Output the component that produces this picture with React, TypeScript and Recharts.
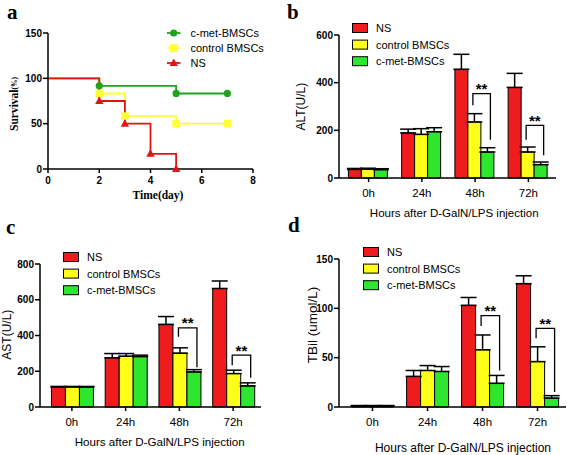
import React from 'react';
import { BarChart, Bar, XAxis, YAxis, ErrorBar, LabelList, Legend, LineChart, Line, Label } from 'recharts';

const SANS = '"Liberation Sans", Arial, sans-serif';
const SERIF = '"Liberation Serif", "Times New Roman", serif';

// survival (panel a)
const cmetDays = [0, 2, 5, 7];
const cmetSurv = [100, 91.7, 83.3, 83.3];
const ctrlDays = [0, 2, 3, 5, 7];
const ctrlSurv = [100, 83.3, 58.3, 50, 50];
const nsDays = [0, 2, 3, 4, 5];
const nsSurv = [100, 75, 50, 16.7, 0];

// bar panels
const hours = ['0h', '24h', '48h', '72h'];
const groupNames = ['NS', 'control BMSCs', 'c-met-BMSCs'];
const barColors = ['#ee1c1c', '#ffff1a', '#2ee62e'];

const altNS = [36, 189, 456, 380];
const altNSErr = [4, 16, 63, 59];
const altCtrl = [37, 183, 235, 109];
const altCtrlErr = [4, 24, 35, 21];
const altCmet = [35, 194, 109, 56];
const altCmetErr = [4, 17, 18, 11];
const altBracketTop = [null, null, 354, 221];
const altBracketLeft = [null, null, 305, 161];
const altBracketRight = [null, null, 161, 95];

const astNS = [112, 275, 462, 663];
const astNSErr = [3, 24, 44, 42];
const astCtrl = [112, 284, 301, 187];
const astCtrlErr = [3, 15, 30, 19];
const astCmet = [112, 282, 196, 118];
const astCmetErr = [3, 8, 13, 17];
const astBracketTop = [null, null, 443, 290];
const astBracketLeft = [null, null, 393, 234];
const astBracketRight = [null, null, 222, 163];

const tbilNS = [1, 31, 103, 125];
const tbilNSErr = [0.5, 6, 8, 8];
const tbilCtrl = [1, 37, 58, 46];
const tbilCtrlErr = [0.5, 5, 15, 15];
const tbilCmet = [1, 36, 24, 9];
const tbilCmetErr = [0.5, 5, 8, 2.5];
const tbilBracketTop = [null, null, 92.6, 79.7];
const tbilBracketLeft = [null, null, 82, 69.6];
const tbilBracketRight = [null, null, 37, 15.3];

const buildRows = (ns: number[], nsE: number[], ct: number[], ctE: number[], cm: number[], cmE: number[]) =>
  hours.map((h, i) => ({
    hour: h,
    ns: ns[i], ctrl: ct[i], cmet: cm[i],
    nsErr: [0, nsE[i]], ctrlErr: [0, ctE[i]], cmetErr: [0, cmE[i]],
  }));

const toPoints = (days: number[], surv: number[]) => days.map((d, i) => ({ day: d, surv: surv[i] }));

const lineSeries = [
  { name: 'c-met-BMSCs', color: '#1fa31f', shape: 'circle', points: toPoints(cmetDays, cmetSurv) },
  { name: 'control BMSCs', color: '#ffff33', shape: 'square', points: toPoints(ctrlDays, ctrlSurv) },
  { name: 'NS', color: '#e01414', shape: 'triangle', points: toPoints(nsDays, nsSurv) },
];

const marker = (shape: string, cx: number, cy: number, color: string, key?: any) => {
  if (shape === 'circle') return <circle key={key} cx={cx} cy={cy} r={3.6} fill={color} />;
  if (shape === 'square') return <rect key={key} x={cx - 3.8} y={cy - 3.8} width={7.6} height={7.6} fill={color} />;
  return <path key={key} d={`M${cx},${cy - 4.5}L${cx + 4.2},${cy + 3}L${cx - 4.2},${cy + 3}Z`} fill={color} />;
};

const axisStroke = { stroke: '#000', strokeWidth: 1.5 };
const numTick = { fontSize: 10, fontWeight: 'bold', fill: '#000', fontFamily: SANS };
const catTick = { fontSize: 11.5, fill: '#000', fontFamily: SANS };

const textAt = (x: number, y: number, text: React.ReactNode, opts: any = {}) => () => (
  <text
    x={x}
    y={y}
    textAnchor="middle"
    dominantBaseline="central"
    transform={opts.rotate ? `rotate(-90 ${x} ${y})` : undefined}
    fontFamily={opts.family ?? SANS}
    fontWeight={opts.weight ?? 'normal'}
    fontSize={opts.size ?? 12}
    fill="#000"
  >
    {text}
  </text>
);

const bracket = (top: (number | null)[], left: (number | null)[], right: (number | null)[]) => (props: any) => {
  const { index, value } = props;
  const vb = props.viewBox && props.viewBox.width != null ? props.viewBox : props;
  const { x, y, width, height } = vb;
  const t = top[index];
  if (t == null || !value) return null;
  const base = y + height;
  const k = height / value;
  const py = (v: number) => base - v * k;
  const x1 = x + width / 2 - 1.5;
  const x2 = x + width * 1.5 + 3;
  return (
    <g>
      <path d={`M${x1},${py(left[index] as number)}V${py(t)}H${x2}V${py(right[index] as number)}`} fill="none" stroke="#000" strokeWidth={1.3} />
      <text x={(x1 + x2) / 2} y={py(t) + 0.5} textAnchor="middle" fontWeight="bold" fontSize={15} fontFamily={SANS} fill="#000">**</text>
    </g>
  );
};

const BarLegend = () => (
  <svg width={130} height={54}>
    {groupNames.map((n, i) => (
      <g key={n}>
        <rect x={0.5} y={8 + i * 16.6 - 4.5} width={15} height={9} fill={barColors[i]} stroke="#000" strokeWidth={1} />
        <text x={24} y={8 + i * 16.6} dominantBaseline="central" fontSize={11} fontFamily={SANS} fill="#000">{n}</text>
      </g>
    ))}
  </svg>
);

const LineLegend = () => (
  <svg width={110} height={50}>
    {lineSeries.map((s, i) => (
      <g key={s.name}>
        <line x1={0} x2={13.5} y1={8 + i * 15} y2={8 + i * 15} stroke={s.color} strokeWidth={1.8} />
        {marker(s.shape, 6.7, 8 + i * 15, s.color)}
        <text x={23.5} y={8 + i * 15} dominantBaseline="central" fontSize={11} fontFamily={SANS} fill="#000">{s.name}</text>
      </g>
    ))}
  </svg>
);

interface BarPanelProps {
  left: number; top: number; width: number; height: number;
  margin: { top: number; right: number; left: number; bottom: number };
  yWidth: number; xHeight: number; pad: { left: number; right: number };
  domain: number[]; ticks: number[];
  rows: any[];
  br: [(number | null)[], (number | null)[], (number | null)[]];
  legendPos: { left: number; top: number };
  yTitle: string; yTitlePos: [number, number]; yTitleSize: number;
  xTitlePos: [number, number]; xTitleSize: number;
}

const BarPanel = (p: BarPanelProps) => (
  <div style={{ position: 'absolute', left: p.left, top: p.top }}>
    <BarChart width={p.width} height={p.height} data={p.rows} margin={p.margin} barCategoryGap="12%" barGap={0}>
      <XAxis dataKey="hour" height={p.xHeight} padding={p.pad} axisLine={axisStroke} tickLine={axisStroke} tickSize={4} tickMargin={7} tick={catTick} interval={0}>
        <Label content={textAt(p.xTitlePos[0], p.xTitlePos[1], 'Hours after D-GalN/LPS injection', { size: p.xTitleSize })} />
      </XAxis>
      <YAxis width={p.yWidth} domain={p.domain} ticks={p.ticks} axisLine={axisStroke} tickLine={axisStroke} tickSize={5} tickMargin={1} tick={numTick} interval={0}>
        <Label content={textAt(p.yTitlePos[0], p.yTitlePos[1], p.yTitle, { size: p.yTitleSize, rotate: true })} />
      </YAxis>
      <Legend layout="vertical" align="center" verticalAlign="middle" content={() => <BarLegend />} wrapperStyle={{ left: p.legendPos.left, top: p.legendPos.top, width: 130 }} />
      <Bar dataKey="ns" name={groupNames[0]} fill={barColors[0]} stroke="#000" strokeWidth={1} isAnimationActive={false}>
        <ErrorBar dataKey="nsErr" width={8} stroke="#000" strokeWidth={1.5} direction="y" />
      </Bar>
      <Bar dataKey="ctrl" name={groupNames[1]} fill={barColors[1]} stroke="#000" strokeWidth={1} isAnimationActive={false}>
        <ErrorBar dataKey="ctrlErr" width={8} stroke="#000" strokeWidth={1.5} direction="y" />
        <LabelList dataKey="ctrl" content={bracket(p.br[0], p.br[1], p.br[2])} />
      </Bar>
      <Bar dataKey="cmet" name={groupNames[2]} fill={barColors[2]} stroke="#000" strokeWidth={1} isAnimationActive={false}>
        <ErrorBar dataKey="cmetErr" width={8} stroke="#000" strokeWidth={1.5} direction="y" />
      </Bar>
    </BarChart>
  </div>
);

const letter = (ch: string, left: number, top: number) => (
  <div style={{ position: 'absolute', left, top, fontFamily: SERIF, fontWeight: 'bold', fontSize: 21, lineHeight: '21px' }}>{ch}</div>
);

export default function App() {
  return (
    <div style={{ position: 'absolute', left: 0, top: 0, width: 567, height: 455, background: '#fff', overflow: 'hidden' }}>
      <div style={{ position: 'absolute', left: 0, top: 0 }}>
        <LineChart width={280} height={225} margin={{ top: 33, right: 27, left: 0, bottom: 0 }}>
          <XAxis dataKey="day" type="number" domain={[0, 8]} ticks={[0, 2, 4, 6, 8]} height={56} axisLine={axisStroke} tickLine={axisStroke} tickSize={4} tickMargin={3.5} tick={numTick} allowDuplicatedCategory={false}>
            <Label content={textAt(158, 195, 'Time(day)', { family: SERIF, weight: 'bold', size: 11.5 })} />
          </XAxis>
          <YAxis dataKey="surv" type="number" domain={[0, 150]} ticks={[0, 50, 100, 150]} width={48} axisLine={axisStroke} tickLine={axisStroke} tickSize={5} tickMargin={1} tick={numTick}>
            <Label content={textAt(14, 104, <>Survival<tspan fontSize={7.5}>(%)</tspan></>, { family: SERIF, weight: 'bold', size: 11.5, rotate: true })} />
          </YAxis>
          <Legend layout="vertical" align="center" verticalAlign="middle" content={() => <LineLegend />} wrapperStyle={{ left: 166.5, top: 24.7, width: 110 }} />
          {lineSeries.map((s) => (
            <Line
              key={s.name}
              data={s.points}
              dataKey="surv"
              name={s.name}
              type="stepAfter"
              stroke={s.color}
              strokeWidth={1.8}
              isAnimationActive={false}
              activeDot={false}
              dot={(d: any) => (d.index === 0 ? <g key={`${s.name}-${d.index}`} /> : marker(s.shape, d.cx, d.cy, s.color, `${s.name}-${d.index}`))}
            />
          ))}
        </LineChart>
      </div>
      <BarPanel
        left={280} top={0} width={287} height={225}
        margin={{ top: 35, right: 11, left: 0, bottom: 0 }}
        yWidth={59} xHeight={47} pad={{ left: 3, right: 1 }}
        domain={[0, 600]} ticks={[0, 200, 400, 600]}
        rows={buildRows(altNS, altNSErr, altCtrl, altCtrlErr, altCmet, altCmetErr)}
        br={[altBracketTop, altBracketLeft, altBracketRight]}
        legendPos={{ left: 72, top: 19.5 }}
        yTitle="ALT(U/L)" yTitlePos={[21.3, 106.7]} yTitleSize={12}
        xTitlePos={[174.2, 213]} xTitleSize={11.5}
      />
      <BarPanel
        left={0} top={225} width={280} height={230}
        margin={{ top: 39, right: 19, left: 0, bottom: 0 }}
        yWidth={40} xHeight={48} pad={{ left: 5, right: 1 }}
        domain={[0, 800]} ticks={[0, 200, 400, 600, 800]}
        rows={buildRows(astNS, astNSErr, astCtrl, astCtrlErr, astCmet, astCmetErr)}
        br={[astBracketTop, astBracketLeft, astBracketRight]}
        legendPos={{ left: 63, top: 23.7 }}
        yTitle="AST(U/L)" yTitlePos={[7.5, 109.7]} yTitleSize={12}
        xTitlePos={[159.7, 216.7]} xTitleSize={11.6}
      />
      <BarPanel
        left={280} top={225} width={287} height={230}
        margin={{ top: 34, right: 1, left: 0, bottom: 0 }}
        yWidth={59} xHeight={48} pad={{ left: 6, right: 1 }}
        domain={[0, 150]} ticks={[0, 50, 100, 150]}
        rows={buildRows(tbilNS, tbilNSErr, tbilCtrl, tbilCtrlErr, tbilCmet, tbilCmetErr)}
        br={[tbilBracketTop, tbilBracketLeft, tbilBracketRight]}
        legendPos={{ left: 82.7, top: 19.3 }}
        yTitle="TBil (umol/L)" yTitlePos={[32, 100]} yTitleSize={13.5}
        xTitlePos={[183, 223.3]} xTitleSize={12}
      />
      {letter('a', 7, 1.5)}
      {letter('b', 287, 1.5)}
      {letter('c', 6, 217)}
      {letter('d', 288, 215)}
    </div>
  );
}
